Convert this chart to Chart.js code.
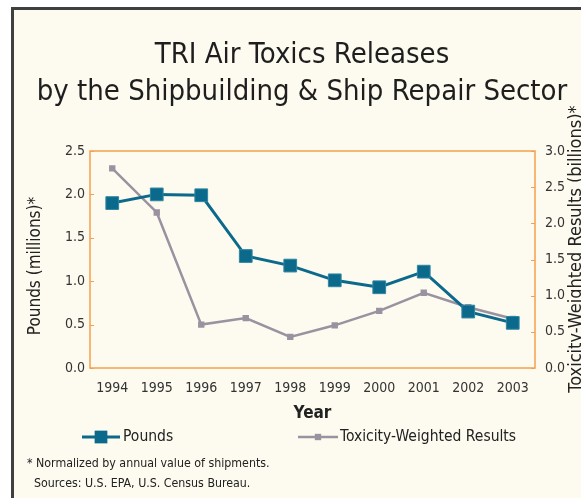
<!DOCTYPE html>
<html>
<head>
<meta charset="utf-8">
<script src="https://cdn.jsdelivr.net/npm/chart.js@4"></script>
<style>
  html, body { margin: 0; padding: 0; background: #fff; overflow: hidden; }
  #box {
    position: absolute; left: 11px; top: 7px; width: 600px; height: 520px;
    background: #fdfbef; border-left: 3px solid #404040; border-top: 3px solid #404040;
  }
  #wrap { position: absolute; left: 0; top: 0; width: 581px; height: 498px; }
</style>
</head>
<body>
<div id="box"></div>
<div id="wrap"><canvas id="myChart" width="581" height="498"></canvas></div>
<script>
// data
let years = ['1994', '1995', '1996', '1997', '1998', '1999', '2000', '2001', '2002', '2003'];
let pounds_millions = [1.90, 2.00, 1.99, 1.29, 1.18, 1.01, 0.93, 1.11, 0.65, 0.52];
let toxicity_billions = [2.76, 2.15, 0.60, 0.69, 0.43, 0.59, 0.79, 1.04, 0.84, 0.68];

let title_lines = ['TRI Air Toxics Releases', 'by the Shipbuilding & Ship Repair Sector'];
let footnotes = ['* Normalized by annual value of shipments.', '  Sources: U.S. EPA, U.S. Census Bureau.'];

let pounds_color = '#0b6a8b';
let toxic_color = '#9a92a0';
let frame_color = '#f6a04d';
let text_color = '#333333';
let narrow = '"Liberation Sans Narrow", "DejaVu Sans Condensed", sans-serif';

// draws title, frame, inner ticks, axis titles, legend and footnotes
const extras = {
  id: 'extras',
  beforeDatasetsDraw(chart) {
    const ctx = chart.ctx;
    const a = chart.chartArea;
    ctx.save();
    ctx.strokeStyle = frame_color;
    ctx.lineWidth = 1.5;
    ctx.strokeRect(a.left, a.top, a.right - a.left, a.bottom - a.top);
    // small ticks pointing into the plot
    ctx.lineWidth = 1;
    ['y', 'y2'].forEach(id => {
      const sc = chart.scales[id];
      sc.ticks.forEach(t => {
        const py = Math.round(sc.getPixelForValue(t.value)) + 0.5;
        ctx.beginPath();
        if (id === 'y') { ctx.moveTo(a.left, py); ctx.lineTo(a.left + 4, py); }
        else { ctx.moveTo(a.right, py); ctx.lineTo(a.right - 4, py); }
        ctx.stroke();
      });
    });
    ctx.restore();
  },
  afterDraw(chart) {
    const ctx = chart.ctx;
    ctx.save();
    ctx.fillStyle = '#1e1e1e';
    ctx.textAlign = 'center';
    ctx.textBaseline = 'alphabetic';
    ctx.font = '29px ' + narrow;
    ctx.fillText(title_lines[0], 302, 63);
    ctx.fillText(title_lines[1], 302, 100);

    // axis titles, both read bottom to top
    ctx.textBaseline = 'middle';
    ctx.fillStyle = '#222';
    ctx.save();
    ctx.translate(36, 266);
    ctx.rotate(-Math.PI / 2);
    ctx.font = '17px ' + narrow;
    ctx.fillText('Pounds (millions)*', 0, 0);
    ctx.restore();
    ctx.save();
    ctx.translate(576, 249);
    ctx.rotate(-Math.PI / 2);
    ctx.font = '18px ' + narrow;
    ctx.fillText('Toxicity-Weighted Results (billions)*', 0, 0);
    ctx.restore();

    // legend
    const items = [
      { ds: chart.data.datasets[0], x1: 82, x2: 120, tx: 123 },
      { ds: chart.data.datasets[1], x1: 298, x2: 338, tx: 340 }
    ];
    const ly = 437;
    ctx.font = '15.5px ' + narrow;
    ctx.textAlign = 'left';
    items.forEach(it => {
      ctx.strokeStyle = it.ds.borderColor;
      ctx.lineWidth = it.ds.borderWidth;
      ctx.beginPath();
      ctx.moveTo(it.x1, ly);
      ctx.lineTo(it.x2, ly);
      ctx.stroke();
      const s = it.ds.pointRadius * Math.SQRT1_2;
      ctx.fillStyle = it.ds.pointBackgroundColor;
      ctx.fillRect((it.x1 + it.x2) / 2 - s, ly - s, 2 * s, 2 * s);
      ctx.fillStyle = '#222';
      ctx.fillText(it.ds.label, it.tx, ly);
    });

    // footnotes
    ctx.font = '12.3px ' + narrow;
    ctx.fillStyle = '#222';
    ctx.fillText(footnotes[0], 27, 464);
    ctx.fillText(footnotes[1], 27, 484);
    ctx.restore();
  }
};

const config = {
  type: 'line',
  data: {
    labels: years,
    datasets: [
      {
        label: 'Pounds',
        data: pounds_millions,
        yAxisID: 'y',
        borderColor: pounds_color,
        backgroundColor: pounds_color,
        pointBackgroundColor: pounds_color,
        pointBorderColor: '#2f86a3',
        pointBorderWidth: 1,
        borderWidth: 3,
        pointStyle: 'rect',
        pointRadius: 9,
        tension: 0,
        order: 1
      },
      {
        label: 'Toxicity-Weighted Results',
        data: toxicity_billions,
        yAxisID: 'y2',
        borderColor: toxic_color,
        backgroundColor: toxic_color,
        pointBackgroundColor: toxic_color,
        pointBorderColor: toxic_color,
        pointBorderWidth: 0,
        borderWidth: 2.5,
        pointStyle: 'rect',
        pointRadius: 4.5,
        tension: 0,
        order: 2
      }
    ]
  },
  options: {
    responsive: false,
    animation: false,
    events: [],
    layout: { padding: { left: 14, right: 0, top: 151, bottom: 72 } },
    plugins: {
      legend: { display: false },
      title: { display: false },
      tooltip: { enabled: false }
    },
    scales: {
      x: {
        offset: true,
        grid: { display: false, drawTicks: false },
        border: { display: false },
        ticks: { color: text_color, font: { family: narrow, size: 14 }, padding: 12, maxRotation: 0 },
        title: { display: true, text: 'Year', color: '#222', font: { family: narrow, size: 17, weight: 'bold' }, padding: { top: 4, bottom: 2 } },
        afterFit(scale) { scale.height = 58; }
      },
      y: {
        position: 'left',
        min: 0, max: 2.5,
        grid: { display: false, drawTicks: false },
        border: { display: false },
        ticks: { stepSize: 0.5, color: text_color, font: { family: narrow, size: 14 }, padding: 5, callback: v => v.toFixed(1) },
        afterFit(scale) { scale.width = 76; }
      },
      y2: {
        position: 'right',
        min: 0, max: 3.0,
        grid: { display: false, drawTicks: false },
        border: { display: false },
        ticks: { stepSize: 0.5, color: text_color, font: { family: narrow, size: 14 }, padding: 10, callback: v => v.toFixed(1) },
        afterFit(scale) { scale.width = 46; }
      }
    }
  },
  plugins: [extras]
};

let myChart = new Chart(document.getElementById('myChart'), config);
</script>
</body>
</html>
